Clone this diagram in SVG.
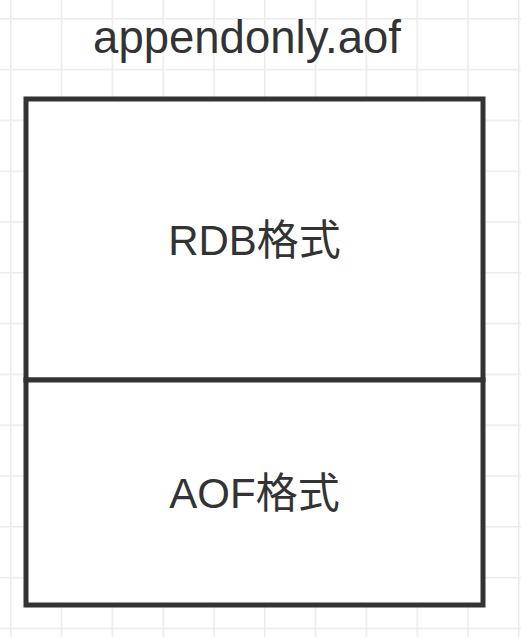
<svg xmlns="http://www.w3.org/2000/svg" width="521" height="637" viewBox="0 0 521 637">
  <defs>
    <pattern id="grid" x="10" y="18" width="50.8" height="50.8" patternUnits="userSpaceOnUse">
      <path d="M0.75 0 V50.8 M0 0.75 H50.8" fill="none" stroke="#ebebeb" stroke-width="1.5"/>
    </pattern>
  </defs>
  <style>
    .box { fill: #ffffff; stroke: #333333; stroke-width: 5; }
    .label { font-family: "Liberation Sans", "Noto Sans CJK SC", sans-serif; fill: #333333; text-anchor: middle; }
  </style>
  <rect x="0" y="0" width="521" height="637" fill="#ffffff"/>
  <rect x="0" y="0" width="521" height="637" fill="url(#grid)"/>
  <text class="label" x="247" y="53" font-size="45.5">appendonly.aof</text>
  <g id="rdb">
    <rect class="box" x="26" y="99" width="457" height="281"/>
    <text class="label" x="254.5" y="255" font-size="42">RDB格式</text>
  </g>
  <g id="aof">
    <rect class="box" x="26" y="380" width="457" height="225"/>
    <text class="label" x="254.5" y="508" font-size="42">AOF格式</text>
  </g>
  <g id="connectors"></g>
</svg>
